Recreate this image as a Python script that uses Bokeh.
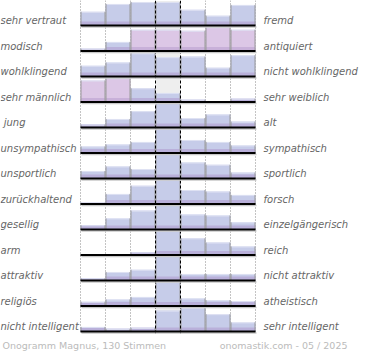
from bokeh.plotting import figure
from bokeh.models import Range1d
from bokeh.core.properties import value
from bokeh.embed import file_html
from bokeh.resources import INLINE

left_labels = ["sehr vertraut", "modisch", "wohlklingend", "sehr männlich", "\u00a0jung",
               "unsympathisch", "unsportlich", "zurückhaltend", "gesellig", "arm",
               "attraktiv", "religiös", "nicht intelligent"]
right_labels = ["fremd", "antiquiert", "nicht wohlklingend", "sehr weiblich", "alt",
                "sympathisch", "sportlich", "forsch", "einzelgängerisch", "reich",
                "nicht attraktiv", "atheistisch", "sehr intelligent"]

# bar heights per row (7 scale steps) (max = 25)
r01 = [14, 22, 24, 24, 16, 10, 21]
r02 = [2.3, 9.3, 21.7, 21.7, 20.7, 24.3, 21.7]
r03 = [11, 14.3, 23.7, 19.7, 20.3, 9, 21.7]
r04 = [22, 24.3, 14, 9.3, 2.3, 0.5, 3.3]
r05 = [3, 8.7, 16.7, 25, 9.7, 13.3, 6]
r06 = [6.7, 8.7, 11.3, 25, 13.3, 11.3, 7.7]
r07 = [7.7, 12.3, 9.7, 25, 16.3, 14, 6]
r08 = [1.3, 10.3, 18.7, 25, 14.3, 12.7, 9.3]
r09 = [4.3, 11.3, 19.3, 25, 15.3, 14.3, 7.3]
r10 = [0, 0, 2.7, 25, 17, 12.7, 8.7]
r11 = [2.3, 8.7, 11, 25, 6.7, 6.7, 6.7]
r12 = [4.3, 6.7, 9.3, 25, 7.7, 6, 5]
r13 = [4.7, 2.7, 3.7, 21.3, 24.3, 17.7, 9.3]
rows = [r01, r02, r03, r04, r05, r06, r07, r08, r09, r10, r11, r12, r13]

# rows whose bars are drawn in the pink tone (row index -> columns)
pink = {1: [2, 3, 4, 5, 6], 3: [0, 1]}

footer_left = "Onogramm Magnus, 130 Stimmen"
footer_right = "onomastik.com - 05 / 2025"

W, H = 362, 352
p = figure(width=W, height=H, output_backend="svg", toolbar_location=None,
           x_range=Range1d(0, W), y_range=Range1d(H, 0), min_border=0)
p.axis.visible = False
p.grid.visible = False
p.outline_line_color = None
p.background_fill_color = "white"
p.border_fill_color = "white"

x0, cw = 80, 25
pitch = 25.5
base0 = 25
k = pitch / 26.0
nrows = len(rows)
baselines = [base0 + i * pitch for i in range(nrows)]

# center column background
p.quad(left=[x0 + 3 * cw] * nrows, right=[x0 + 4 * cw] * nrows,
       top=[b - 25 * k for b in baselines], bottom=baselines,
       fill_color="#eeeeee", line_color=None)

# dotted grid
ymax = baselines[-1] + 2
for j in [0, 1, 2, 5, 6, 7]:
    p.line([x0 + j * cw] * 2, [0, ymax], line_color="#888888", line_dash="1 2", line_width=1)

# bars
L, R, T, B, C, Cb = [], [], [], [], [], []
for i, vals in enumerate(rows):
    b = baselines[i]
    for j, v in enumerate(vals):
        h = v * k
        if h <= 0:
            continue
        L.append(x0 + j * cw)
        R.append(x0 + (j + 1) * cw)
        T.append(b - h)
        B.append(b)
        if j in pink.get(i, []):
            C.append("#dcc7e6"); Cb.append("#c8b0d9")
        else:
            C.append("#c6cce9"); Cb.append("#b9b0da")
p.quad(left=L, right=R, top=T, bottom=B, fill_color=C, line_color=None)
# purple lower band (gradient approximation)
p.quad(left=L, right=R, top=[max(t, b - 4) for t, b in zip(T, B)], bottom=B,
       fill_color=Cb, line_color=None)
# light top edges
p.segment(x0=L, x1=R, y0=[t + 0.5 for t in T], y1=[t + 0.5 for t in T],
          line_color="#dfe2f3", line_width=1)
# gray side edges
p.segment(x0=[l + 0.5 for l in L], x1=[l + 0.5 for l in L], y0=T, y1=B, line_color="#9a9a9a", line_width=1)
p.segment(x0=[r - 0.5 for r in R], x1=[r - 0.5 for r in R], y0=T, y1=B, line_color="#9a9a9a", line_width=1)

# dashed center lines
for j in [3, 4]:
    p.line([x0 + j * cw] * 2, [0, ymax], line_color="black", line_dash="3 2", line_width=1)

# baselines with soft shadow
p.segment(x0=[x0 + 1] * nrows, x1=[x0 + 7 * cw + 1] * nrows,
          y0=[b + 1.5 for b in baselines], y1=[b + 1.5 for b in baselines],
          line_color="#c8c8c8", line_width=1.5)
p.segment(x0=[x0] * nrows, x1=[x0 + 7 * cw] * nrows, y0=baselines, y1=baselines,
          line_color="black", line_width=2)

# labels
p.text(x=[0] * nrows, y=[b - 5 for b in baselines], text=left_labels,
       text_font=value("DejaVu Sans"), text_font_style="italic", text_font_size="10px",
       text_color="#666666", text_baseline="middle", text_align="left")
p.text(x=[263] * nrows, y=[b - 5 for b in baselines], text=right_labels,
       text_font=value("DejaVu Sans"), text_font_style="italic", text_font_size="10px",
       text_color="#666666", text_baseline="middle", text_align="left")

# footer
p.text(x=[2], y=[baselines[-1] + 14], text=[footer_left],
       text_font=value("DejaVu Sans"), text_font_size="9.5px",
       text_color="#bbbbbb", text_baseline="middle", text_align="left")
p.text(x=[347], y=[baselines[-1] + 14], text=[footer_right],
       text_font=value("DejaVu Sans"), text_font_size="9.5px",
       text_color="#bbbbbb", text_baseline="middle", text_align="right")

open("out.html", "w").write(file_html(p, INLINE))
